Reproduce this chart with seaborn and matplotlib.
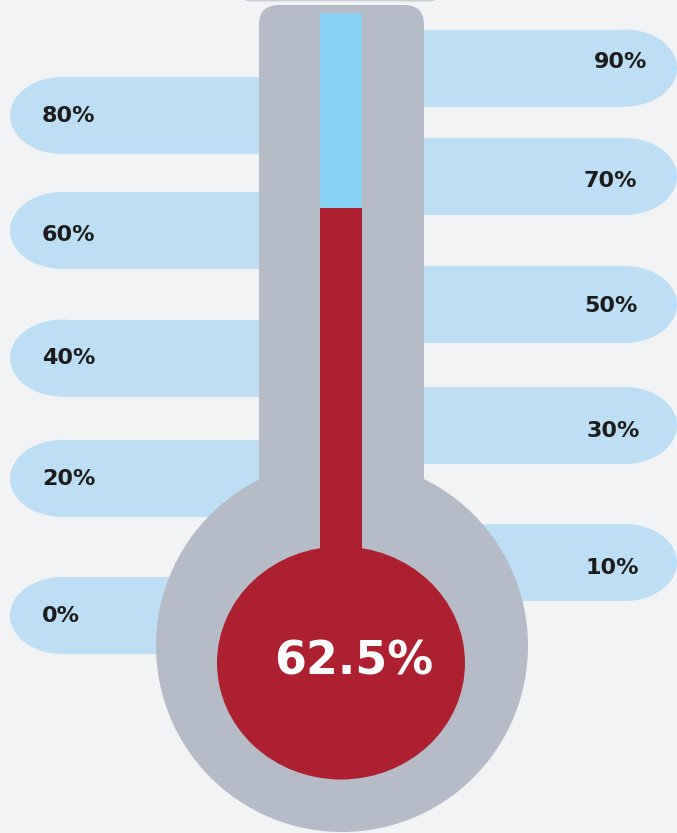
import matplotlib
matplotlib.use("Agg")
import matplotlib.pyplot as plt
from matplotlib.patches import FancyBboxPatch, Circle, Ellipse, Rectangle
import seaborn as sns

# data
fill_value = 62.5
fill_label = "62.5%"
left_labels = ["80%", "60%", "40%", "20%", "0%"]
right_labels = ["90%", "70%", "50%", "30%", "10%"]

# layout (pixel space, y downwards)
W, H = 677, 833
left_pill_y = [115.5, 230.5, 358, 478.5, 615.5]
right_pill_y = [68, 176.5, 304.5, 425.5, 562.5]
left_text_y = [115.5, 235, 358, 479, 615.5]
right_text_y = [62, 181, 305.5, 431, 567.5]
right_text_x = [647, 637, 638, 640, 639]
pill_h = 77
cap_w = 52  # horizontal extent of the rounded pill end

bg = "#f2f3f5"
pill_c = "#bddff5"
gray = "#b5bcc8"
red = "#ae2030"
tube_c = "#8ad2f3"

sns.set_theme(style="white")
plt.rcParams["font.family"] = ["DejaVu Sans"]

fig = plt.figure(figsize=(W / 100, H / 100), dpi=100)
fig.patch.set_facecolor(bg)
ax = fig.add_axes([0, 0, 1, 1])
ax.set_xlim(0, W)
ax.set_ylim(H, 0)
ax.set_facecolor(bg)
ax.axis("off")

# pills on the left: round end at x=10
for lab, yc, ty in zip(left_labels, left_pill_y, left_text_y):
    ax.add_patch(Ellipse((10 + cap_w, yc), 2 * cap_w, pill_h, fc=pill_c, ec="none", zorder=1))
    ax.add_patch(Rectangle((10 + cap_w, yc - pill_h / 2), 300 - 10 - cap_w, pill_h,
                           fc=pill_c, ec="none", zorder=1))
    ax.text(42, ty, lab, ha="left", va="center", fontsize=16,
            fontweight="bold", color="#1c1c1c", zorder=5)
# pills on the right: round end at the right border
for lab, yc, ty, tx in zip(right_labels, right_pill_y, right_text_y, right_text_x):
    ax.add_patch(Ellipse((W - cap_w, yc), 2 * cap_w, pill_h, fc=pill_c, ec="none", zorder=1))
    ax.add_patch(Rectangle((380, yc - pill_h / 2), W - cap_w - 380, pill_h,
                           fc=pill_c, ec="none", zorder=1))
    ax.text(tx, ty, lab, ha="right", va="center", fontsize=16,
            fontweight="bold", color="#1c1c1c", zorder=5)

# faint shape at the very top
ax.add_patch(FancyBboxPatch((237, -40), 206, 41.5,
                            boxstyle="round,pad=0,rounding_size=15",
                            fc="#c9ced6", ec="none", zorder=1))

# thermometer body
ax.add_patch(FancyBboxPatch((259, 5), 165, 560,
                            boxstyle="round,pad=0,rounding_size=20",
                            fc=gray, ec="none", zorder=2))
ax.add_patch(Circle((342, 646), 186, fc=gray, ec="none", zorder=2))
ax.add_patch(Rectangle((320, 520), 42, 50, fc=red, ec="none", zorder=3))
ax.add_patch(Ellipse((341, 663), 248, 233, fc=red, ec="none", zorder=3))
ax.text(354, 662, fill_label, ha="center", va="center", fontsize=33,
        fontweight="bold", color="white", zorder=6)

# mercury column: 0% at y=533, 100% at y=13
tube_top, tube_bot = 13, 533
ax_t = fig.add_axes([320 / W, 1 - tube_bot / H, 42 / W, (tube_bot - tube_top) / H])
ax_t.set_facecolor(tube_c)
sns.barplot(x=["level"], y=[fill_value], color=red, saturation=1, width=1,
            edgecolor="none", ax=ax_t)
ax_t.set_xlim(-0.5, 0.5)
ax_t.set_ylim(0, 100)
ax_t.set_xticks([])
ax_t.set_yticks([])
ax_t.set_xlabel("")
ax_t.set_ylabel("")
for s in ax_t.spines.values():
    s.set_visible(False)

fig.savefig("out.png", dpi=100, facecolor=bg)
